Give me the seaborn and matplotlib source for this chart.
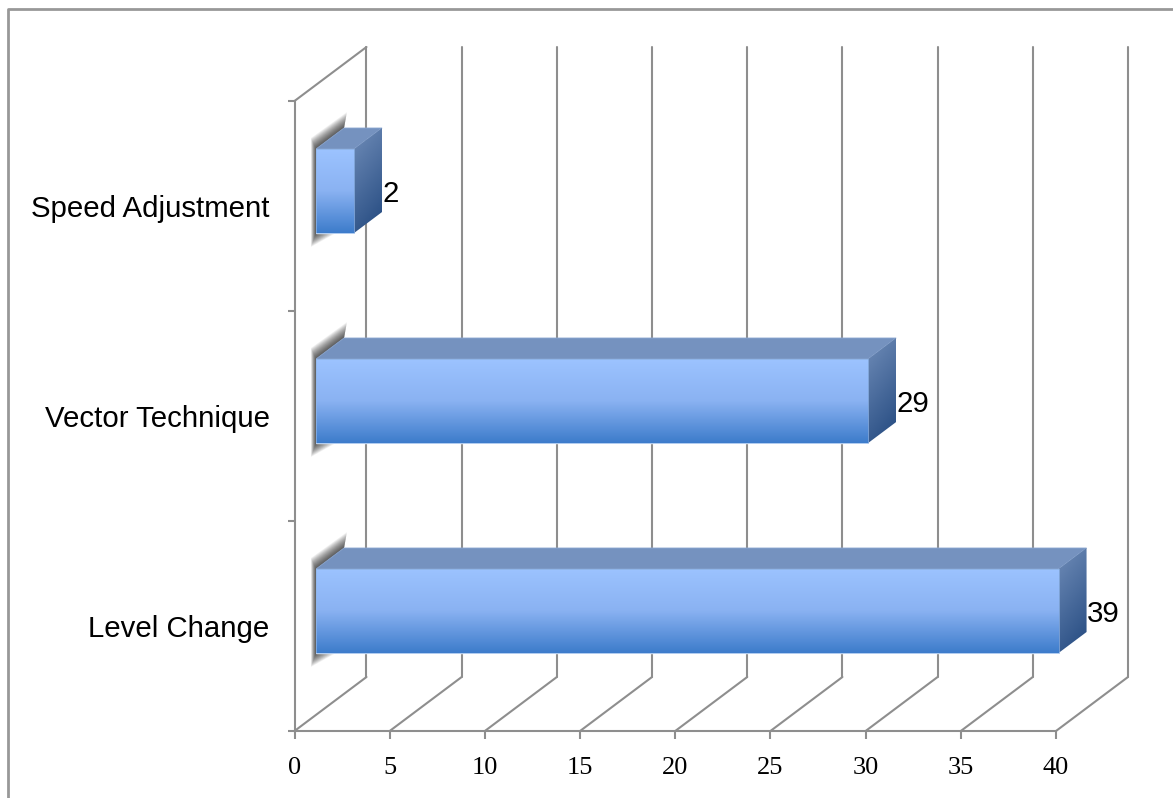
import numpy as np
import pandas as pd
import matplotlib.pyplot as plt
import seaborn as sns
from matplotlib.colors import LinearSegmentedColormap
from matplotlib.lines import Line2D
from matplotlib.patches import Polygon, Rectangle

# datos del grafico
techniques = ["Speed Adjustment", "Vector Technique", "Level Change"]
counts = [2, 29, 39]
x_ticks = [0, 5, 10, 15, 20, 25, 30, 35, 40]

W, H = 1173, 798
GRID = "#8e8e8e"
PX_PER_UNIT = 19.04
PX_PER_ROW = 210

sns.set_theme(style="white")
plt.rcParams["font.family"] = ["Liberation Sans", "DejaVu Sans"]

fig = plt.figure(figsize=(W / 100, H / 100), dpi=100)
fig.patch.set_facecolor("white")


def px_axes(left, top, right, bottom, **kw):
    return fig.add_axes([left / W, 1 - bottom / H, (right - left) / W, (bottom - top) / H], **kw)


# marco exterior: solo izquierda y arriba llegan a verse
fig.add_artist(Line2D([7.5 / W, 7.5 / W, 1], [0, 1 - 8.5 / H, 1 - 8.5 / H], transform=fig.transFigure,
                      color="#989898", linewidth=2))

# plano frontal del grafico
ax = px_axes(294.5, 101, 1056, 731)
ax.patch.set_alpha(0)
ax.set_xlim(0, 40)
ax.set_ylim(2.5, -0.5)
for name in ["top", "right"]:
    ax.spines[name].set_visible(False)
for name in ["left", "bottom"]:
    ax.spines[name].set_color(GRID)
    ax.spines[name].set_linewidth(1.5)

ax.set_xticks(x_ticks)
ax.set_xticklabels(x_ticks, family="Liberation Serif", fontsize=19, color="black")
ax.tick_params(axis="x", length=6, width=1.5, color=GRID, pad=12.5, bottom=True)
ax.set_yticks(range(len(techniques)))
ax.set_yticklabels(techniques, fontsize=21.2, color="black")
ax.tick_params(axis="y", which="major", length=0, pad=18)
ax.set_yticks(np.arange(-0.5, 3), minor=True)
ax.tick_params(axis="y", which="minor", length=5, width=1.5, color=GRID, left=True)

# paredes 3D: profundidad en unidades de datos
wall_dx = 72 / PX_PER_UNIT
wall_dy = 54 / PX_PER_ROW
line_kw = dict(color=GRID, linewidth=1.5, clip_on=False, zorder=1)
for t in x_ticks:
    ax.plot([t, t + wall_dx], [2.5, 2.5 - wall_dy], **line_kw)
    ax.plot([t + wall_dx, t + wall_dx], [2.5 - wall_dy, -0.5 - wall_dy], **line_kw)
ax.plot([0, wall_dx], [-0.5, -0.5 - wall_dy], **line_kw)

# barras, desplazadas hacia el fondo en sus propios ejes (mas anchos para que quepa la cara lateral)
x_max = 45
ax_bar = px_axes(316, 86, 316 + x_max * PX_PER_UNIT, 716)
ax_bar.set_zorder(ax.get_zorder() + 1)
ax_bar.patch.set_alpha(0)

df = pd.DataFrame({"technique": techniques, "count": counts})
sns.barplot(data=df, x="count", y="technique", orient="h", width=0.4, color="#6a9fe6",
            saturation=1, ax=ax_bar, zorder=3)
ax_bar.axis("off")

face_cmap = LinearSegmentedColormap.from_list("face", ["#9cc3ff", "#8ab2f2", "#3d7ccb"])
side_cmap = LinearSegmentedColormap.from_list("side", ["#6f8cb8", "#23497f"])
bar_dx = 28 / PX_PER_UNIT
bar_dy = 21 / PX_PER_ROW
ux = 1 / PX_PER_UNIT
uy = 1 / PX_PER_ROW

for bar, value in zip(ax_bar.patches, counts):
    top = bar.get_y()
    bottom = top + bar.get_height()
    right = bar.get_x() + bar.get_width()

    # sombra difusa: poligonos transparentes que crecen hacia fuera desde el borde
    for s in np.linspace(0.06, 1, 18):
        ax_bar.add_patch(Polygon([(bar_dx, top - bar_dy),
                                  (bar_dx + 3 * s * ux, top - bar_dy - 16 * s * uy),
                                  (-5 * s * ux, top - 11 * s * uy),
                                  (-5 * s * ux, bottom + 14 * s * uy),
                                  (20 * s * ux, bottom)],
                                 facecolor="black", edgecolor="none", alpha=0.05,
                                 zorder=2, clip_on=False))

    # degradado de la cara frontal
    grad = np.linspace(0, 1, 128).reshape(-1, 1)
    img = ax_bar.imshow(grad, cmap=face_cmap, aspect="auto", zorder=4,
                        extent=[0, right, bottom, top])
    img.set_clip_path(bar)
    ax_bar.add_patch(Rectangle((0, top), right, bottom - top, fill=False,
                               edgecolor="#8fb6ea", linewidth=0.5, zorder=5))

    # cara superior
    ax_bar.add_patch(Polygon([(0, top), (bar_dx, top - bar_dy), (right + bar_dx, top - bar_dy), (right, top)],
                             facecolor="#7592bf", edgecolor="#8aa6d0", linewidth=0.6, zorder=4))

    # cara lateral
    side = Polygon([(right, top), (right + bar_dx, top - bar_dy), (right + bar_dx, bottom - bar_dy), (right, bottom)],
                   facecolor="none", edgecolor="none", zorder=4)
    ax_bar.add_patch(side)
    xx, yy = np.meshgrid(np.linspace(0, 1, 64), np.linspace(0, 1, 64))
    side_img = ax_bar.imshow(0.25 * xx + 0.75 * yy, cmap=side_cmap, aspect="auto", zorder=4,
                             extent=[right, right + bar_dx, bottom, top - bar_dy])
    side_img.set_clip_path(side)

    # etiqueta de valor
    ax_bar.text(value + bar_dx, (top + bottom) / 2 + 0.015, str(value), ha="left", va="center",
                fontsize=21.2, color="black", zorder=6, clip_on=False)

ax_bar.set_xlim(0, x_max)
ax_bar.set_ylim(2.5, -0.5)

fig.savefig("out.png", dpi=100)
